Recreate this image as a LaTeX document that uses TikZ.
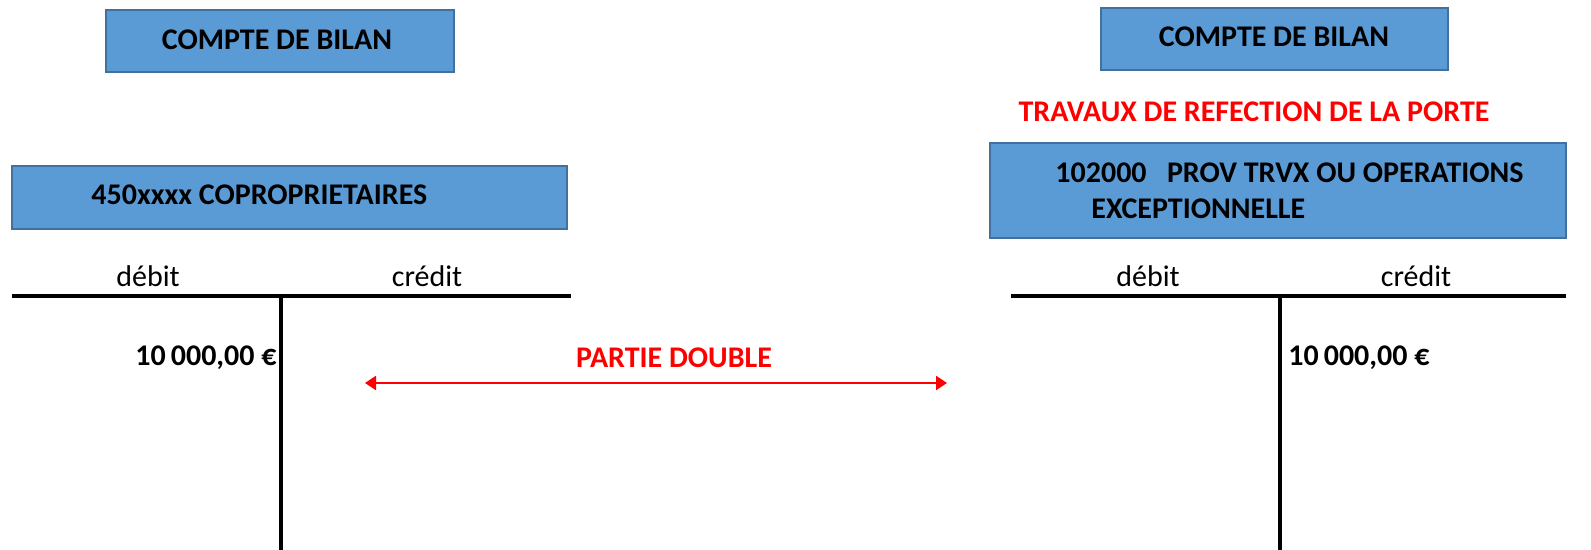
\documentclass[tikz,border=0pt]{standalone}
\usepackage{fontspec}
\setmainfont{Carlito}
\usetikzlibrary{arrows.meta}
\definecolor{boxfill}{HTML}{5B9BD5}
\definecolor{boxline}{HTML}{41719C}
\definecolor{redtxt}{HTML}{FF0000}
\begin{document}
\begin{tikzpicture}[x=0.5pt,y=-0.5pt,
  acct/.style={draw=boxline,line width=1pt,fill=boxfill},
  lbl/.style={font=\fontsize{15pt}{18pt}\selectfont\bfseries,inner sep=0pt},
  col/.style={font=\fontsize{15pt}{18pt}\selectfont,inner sep=0pt},
  tline/.style={line width=2pt,black},
  dbl/.style={red,line width=1pt,{Triangle[length=5.5pt,width=7pt]}-{Triangle[length=5.5pt,width=7pt]}}]
\useasboundingbox (0,0) rectangle (1591,550);
% top boxes
\draw[acct] (106,10) rectangle (454,72);
\node[lbl] (cb1) at (277,40) {COMPTE DE BILAN};
\draw[acct] (1101,8) rectangle (1448,70);
\node[lbl] (cb2) at (1274,37) {COMPTE DE BILAN};
% red title
\node[lbl,text=redtxt] (trav) at (1254,112) {TRAVAUX DE REFECTION DE LA PORTE};
% account boxes
\draw[acct] (12,166) rectangle (567,229);
\node[lbl,anchor=west] (a450) at (91,195) {450xxxx COPROPRIETAIRES};
\draw[acct] (990,143) rectangle (1566,238);
\node[lbl,anchor=west] (a102a) at (1055,173) {102000\ \ \ PROV TRVX OU OPERATIONS};
\node[lbl,anchor=west] (a102b) at (1091,209) {EXCEPTIONNELLE};
% left T
\node[col] (d1) at (148,276) {débit};
\node[col] (c1) at (427,276) {crédit};
\coordinate (h1a) at (12,296);
\coordinate (h1b) at (571,296);
\coordinate (v1a) at (281,296);
\coordinate (v1b) at (281,550);
\draw[tline] (h1a) -- (h1b);
\draw[tline] (v1a) -- (v1b);
% right T
\node[col] (d2) at (1148,276) {débit};
\node[col] (c2) at (1416,276) {crédit};
\coordinate (h2a) at (1011,296);
\coordinate (h2b) at (1566,296);
\coordinate (v2a) at (1280,296);
\coordinate (v2b) at (1280,550);
\draw[tline] (h2a) -- (h2b);
\draw[tline] (v2a) -- (v2b);
% amounts
\node[lbl,anchor=east] (m1) at (277,358) {10\,000,00 €};
\node[lbl,anchor=west] (m2) at (1288,358) {10\,000,00 €};
% partie double
\node[lbl,text=redtxt] (pd) at (674,358) {PARTIE DOUBLE};
\coordinate (arL) at (365,383);
\coordinate (arR) at (947,383);
\draw[dbl] (arL) -- (arR);
\end{tikzpicture}
\end{document}
